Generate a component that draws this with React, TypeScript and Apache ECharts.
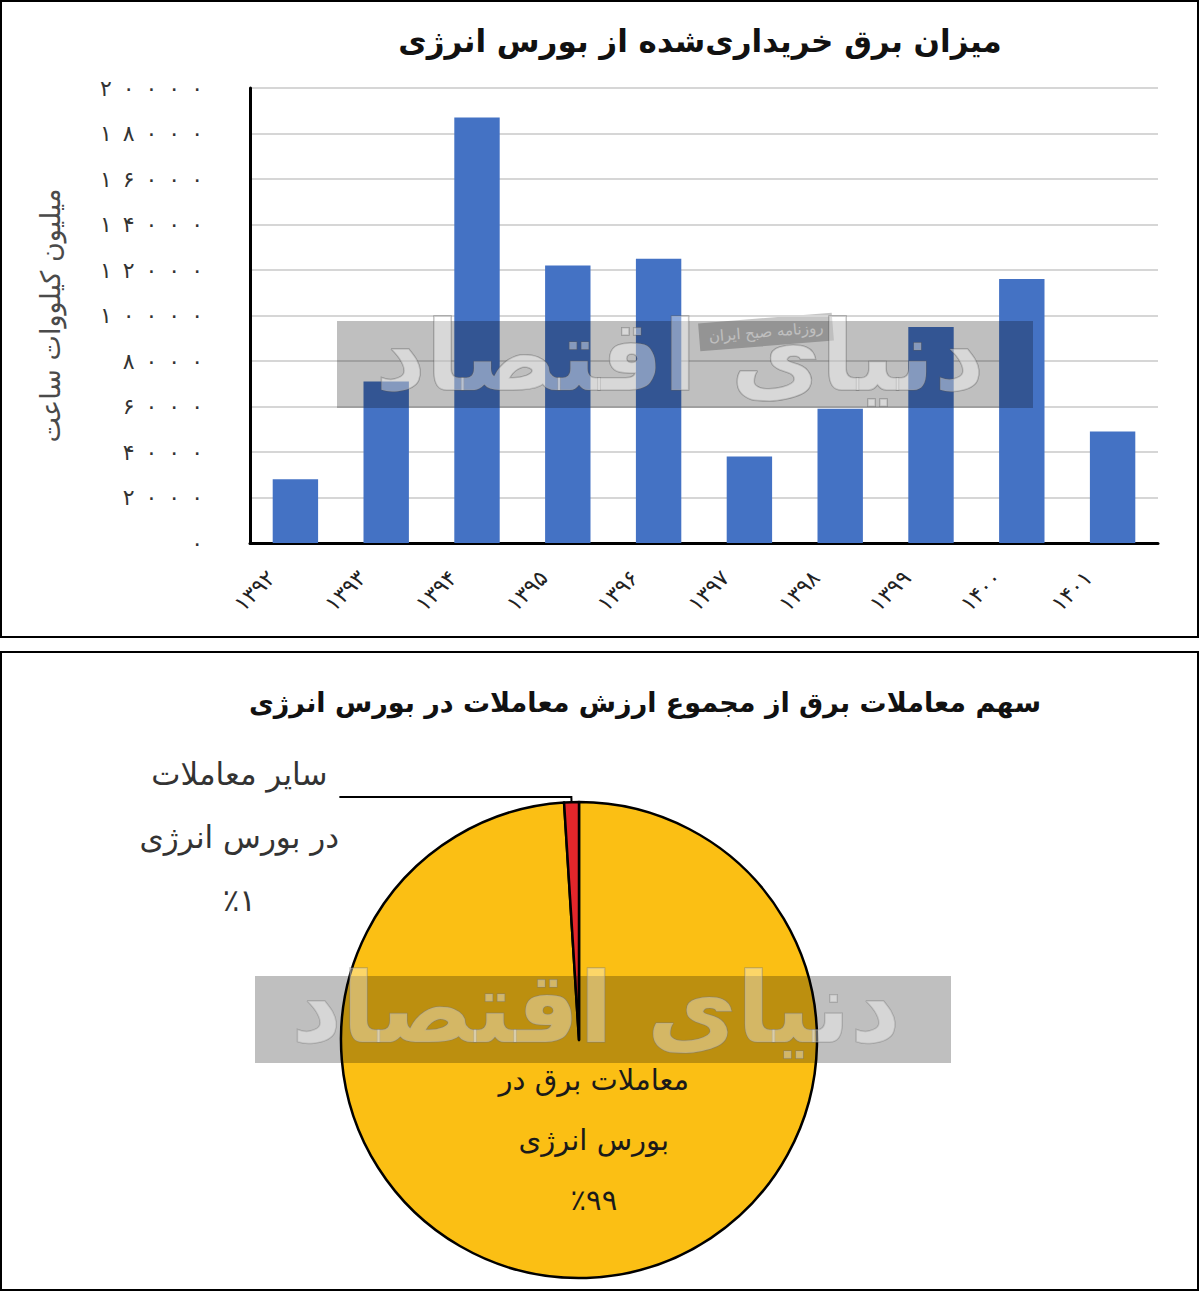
import React, { useEffect, useRef } from "react";
import * as echarts from "echarts";

const FONT = "DejaVu Sans";

// ---- Bar chart data ----
const barTitle = "میزان برق خریداری\u200cشده از بورس انرژی";
const yAxisName = "میلیون کیلووات ساعت";
const years = ["۱۳۹۲", "۱۳۹۳", "۱۳۹۴", "۱۳۹۵", "۱۳۹۶", "۱۳۹۷", "۱۳۹۸", "۱۳۹۹", "۱۴۰۰", "۱۴۰۱"];
const volumes = [2800, 7100, 18700, 12200, 12500, 3800, 5900, 9500, 11600, 4900];
const yMin = 0;
const yMax = 20000;
const yInterval = 2000;

// ---- Pie chart data ----
const pieTitle = "سهم معاملات برق از مجموع ارزش معاملات در بورس انرژی";
const pieNames = ["معاملات برق در بورس انرژی", "سایر معاملات در بورس انرژی"];
const pieLabelLines = [
  ["معاملات برق در", "بورس انرژی"],
  ["سایر معاملات", "در بورس انرژی"],
];
const pieValues = [99, 1];
const pieColors = ["#FBBF14", "#E3262B"];

// ---- Watermark texts ----
const wmMain = "دنیای اقتصاد";
const wmSub = "روزنامه صبح ایران";

const faDigits = "۰۱۲۳۴۵۶۷۸۹";
const toFa = (n: number | string) => String(n).replace(/\d/g, (d) => faDigits[+d]);

export default function App() {
  const ref = useRef<HTMLDivElement>(null);

  useEffect(() => {
    if (!ref.current) return;
    const chart = echarts.init(ref.current, null, { renderer: "svg" });

    const labelText = (p: any) =>
      [...pieLabelLines[p.dataIndex], "٪" + toFa(Math.round(p.percent))]
        .map((l) => `{t|${l}}`)
        .join("\n");

    const pieData = pieValues.map((v, i) => {
      const inside = i === 0;
      return {
        value: v,
        name: pieNames[i],
        itemStyle: { color: pieColors[i] },
        label: inside
          ? {
              show: true,
              position: "inside",
              padding: [0, 0, 44, 22],
              formatter: labelText,
              rich: {
                t: { fontFamily: FONT, fontSize: 29, color: "#1a1a1a", lineHeight: 60, align: "center" },
              },
            }
          : {
              show: true,
              position: "outside",
              padding: [80, 0, 0, 0],
              formatter: labelText,
              rich: {
                t: {
                  fontFamily: FONT,
                  fontSize: 31,
                  color: "#333",
                  lineHeight: 63,
                  width: 190,
                  align: "center",
                },
              },
            },
        labelLine: inside
          ? { show: false }
          : { show: true, length: 5, length2: 232, lineStyle: { color: "#000", width: 2 } },
      };
    });

    chart.setOption({
      animation: false,
      backgroundColor: "#fff",
      title: [
        {
          text: barTitle,
          left: 695,
          top: 20,
          textAlign: "center",
          textStyle: { fontFamily: FONT, fontSize: 31, fontWeight: "bold", color: "#111" },
        },
        {
          text: pieTitle,
          left: 640,
          top: 684,
          textAlign: "center",
          textStyle: { fontFamily: FONT, fontSize: 27, fontWeight: "bold", color: "#111" },
        },
      ],
      grid: { left: 250, right: 42, top: 88, height: 455 },
      xAxis: {
        type: "category",
        data: years,
        axisLine: { show: true, lineStyle: { color: "#000", width: 3 } },
        axisTick: { show: false },
        axisLabel: {
          rotate: 45,
          margin: 7,
          interval: 0,
          fontFamily: FONT,
          fontSize: 22,
          color: "#222",
          padding: [0, 34, 0, 0],
        },
      },
      yAxis: {
        type: "value",
        min: yMin,
        max: yMax,
        interval: yInterval,
        name: yAxisName,
        nameLocation: "middle",
        nameRotate: 90,
        nameGap: 186,
        nameTextStyle: { fontFamily: FONT, fontSize: 27, color: "#4a4a4a" },
        axisLine: { show: true, lineStyle: { color: "#000", width: 3 } },
        axisTick: { show: false },
        splitLine: { show: true, lineStyle: { color: "#d6d6d6", width: 2 } },
        axisLabel: {
          margin: 47,
          fontFamily: FONT,
          fontSize: 22,
          color: "#333",
          formatter: (v: number) => toFa(v).split("").join("\u2002"),
        },
      },
      series: [
        {
          type: "bar",
          data: volumes,
          barWidth: "50%",
          itemStyle: { color: "#4472C4" },
        },
        {
          type: "pie",
          center: [579, 1040],
          radius: 238,
          startAngle: 90,
          clockwise: true,
          avoidLabelOverlap: false,
          itemStyle: { borderColor: "#000", borderWidth: 2.5 },
          data: pieData,
        },
      ],
      graphic: [
        // panel borders
        {
          type: "rect",
          z: 200,
          shape: { x: 1, y: 1, width: 1197, height: 636 },
          style: { fill: "none", stroke: "#000", lineWidth: 2 },
          silent: true,
        },
        {
          type: "rect",
          z: 200,
          shape: { x: 1, y: 652, width: 1197, height: 638 },
          style: { fill: "none", stroke: "#000", lineWidth: 2 },
          silent: true,
        },
        // watermark top
        {
          type: "rect",
          z: 100,
          shape: { x: 337, y: 321, width: 696, height: 87 },
          style: { fill: "rgba(0,0,0,0.25)" },
          silent: true,
        },
        {
          type: "text",
          z: 101,
          x: 680,
          y: 356,
          style: {
            text: wmMain,
            fontFamily: FONT,
            fontSize: 98,
            fontWeight: "bold",
            fill: "rgba(255,255,255,0.4)",
            stroke: "rgba(90,90,90,0.45)",
            lineWidth: 1.5,
            align: "center",
            verticalAlign: "middle",
          },
          silent: true,
        },
        {
          type: "group",
          z: 102,
          x: 766,
          y: 332,
          rotation: 0.08,
          silent: true,
          children: [
            {
              type: "rect",
              shape: { x: -68, y: -15, width: 136, height: 30 },
              style: { fill: "rgba(160,160,160,0.6)", stroke: "#fff", lineWidth: 2 },
            },
            {
              type: "text",
              style: {
                text: wmSub,
                fontFamily: FONT,
                fontSize: 15,
                fill: "#fff",
                align: "center",
                verticalAlign: "middle",
              },
            },
          ],
        },
        // watermark bottom
        {
          type: "rect",
          z: 100,
          shape: { x: 255, y: 976, width: 696, height: 87 },
          style: { fill: "rgba(0,0,0,0.25)" },
          silent: true,
        },
        {
          type: "text",
          z: 101,
          x: 596,
          y: 1008,
          style: {
            text: wmMain,
            fontFamily: FONT,
            fontSize: 98,
            fontWeight: "bold",
            fill: "rgba(255,255,255,0.36)",
            stroke: "rgba(120,120,120,0.45)",
            lineWidth: 1.5,
            align: "center",
            verticalAlign: "middle",
          },
          silent: true,
        },
        {
          type: "group",
          z: 102,
          x: 685,
          y: 985,
          rotation: 0.07,
          silent: true,
          children: [
            {
              type: "rect",
              shape: { x: -68, y: -15, width: 136, height: 30 },
              style: { fill: "rgba(200,150,40,0.3)", stroke: "rgba(255,230,160,0.9)", lineWidth: 2 },
            },
            {
              type: "text",
              style: {
                text: wmSub,
                fontFamily: FONT,
                fontSize: 15,
                fill: "rgba(255,240,200,0.95)",
                align: "center",
                verticalAlign: "middle",
              },
            },
          ],
        },
      ],
    });

    return () => chart.dispose();
  }, []);

  return (
    <div
      ref={ref}
      style={{ position: "absolute", left: 0, top: 0, width: 1200, height: 1291, background: "#fff" }}
    />
  );
}
